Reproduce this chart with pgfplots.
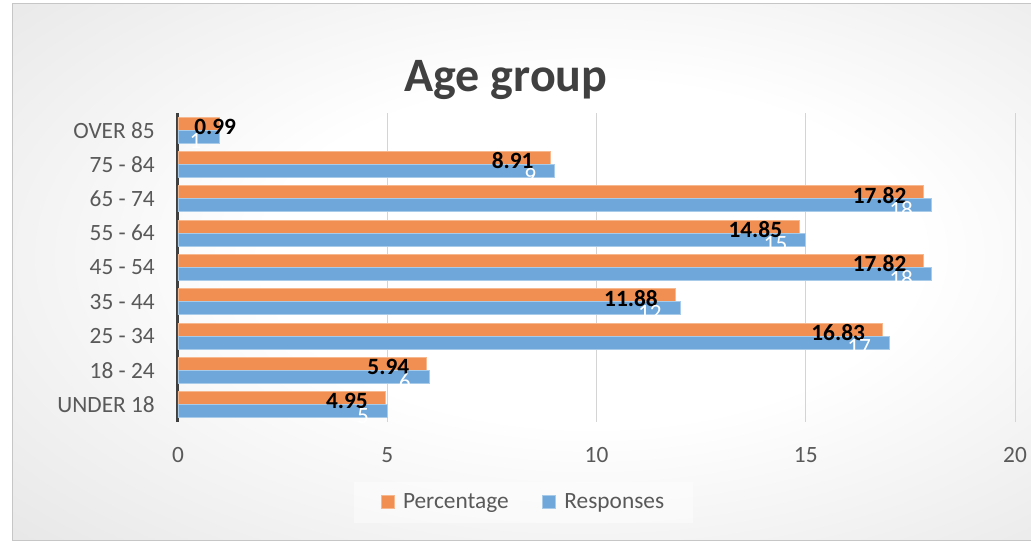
\documentclass[border=0pt]{standalone}
\usepackage{pgfplots}
\pgfplotsset{compat=1.18}
\usepackage{pgfplotstable}
\usepackage{fontspec}
\setmainfont{Carlito}

\definecolor{txt}{HTML}{595959}
\definecolor{ttl}{HTML}{404040}
\definecolor{pctfill}{HTML}{F08F51}
\definecolor{pctedge}{HTML}{F6B88F}
\definecolor{respfill}{HTML}{6FA7DA}
\definecolor{respedge}{HTML}{A9CBEA}
\definecolor{gridc}{HTML}{D4D4D4}

% 1 px of the reference = 0.75pt
\def\pxu{0.75pt}

\pgfdeclareradialshading{chartbg}{\pgfpoint{4bp}{2bp}}{%
  color(0bp)=(white); color(16bp)=(white); color(40bp)=(gray!20);
  color(58bp)=(gray!36); color(72bp)=(gray!45); color(100bp)=(gray!45)}

\pgfplotstableread{
y pct resp ps
0 4.95 5 -17
1 5.94 6 -17
2 16.83 17 -17
3 11.88 12 -17
4 17.82 18 -17
5 14.85 15 -17
6 17.82 18 -17
7 8.91 9 -17
8 0.99 1 17
}\agedata

\begin{document}
\begin{tikzpicture}
\path[use as bounding box] (0,0) rectangle (1031*\pxu,540*\pxu);
\path[shading=chartbg, draw=gray!45, line width=0.75pt]
  (12*\pxu,0) rectangle (1035*\pxu,536*\pxu);

\node[anchor=base, text=ttl, inner sep=0pt] at (506*\pxu,448*\pxu)
  {\fontsize{36}{40}\selectfont\bfseries Age group};

\begin{axis}[
  at={(178*\pxu,118*\pxu)}, anchor=south west,
  scale only axis,
  width=627.75pt, height=231.75pt,
  xbar,
  bar width=9.75pt,
  xmin=0, xmax=20, ymin=-0.5, ymax=8.5,
  xtick={0,5,10,15,20},
  ytick={0,...,8},
  yticklabels={UNDER 18,18 - 24,25 - 34,35 - 44,45 - 54,55 - 64,65 - 74,{75 - 84\ },OVER 85},
  major tick length=0pt,
  axis lines*=left,
  x axis line style={draw=none},
  y axis line style={draw=ttl, line width=2.25pt},
  xmajorgrids,
  grid style={draw=gridc, line width=0.75pt},
  tick label style={font=\fontsize{17.5}{20}\selectfont, text=txt, inner sep=0pt},
  /pgf/number format/assume math mode=true,
  yticklabel style={anchor=east, xshift=-23*\pxu},
  xticklabel style={anchor=north, yshift=-25*\pxu},
  legend style={at={(0.413,-0.259)}, anchor=center, draw=none,
    fill=white, fill opacity=0.45, text opacity=1,
    font=\fontsize{17.5}{20}\selectfont, text=txt,
    inner xsep=20pt, inner ysep=7pt,
    /tikz/every odd column/.append style={column sep=4.5pt},
    /tikz/every even column/.append style={column sep=23pt}},
  legend columns=2,
  legend image code/.code={\draw[#1, fill opacity=1, draw opacity=1]
    (0pt,-4.875pt) rectangle (9.75pt,4.875pt);},
  point meta=explicit symbolic,
  nodes near coords,
]
\addplot[fill=pctfill, draw=pctedge, line width=0.6pt, bar shift=4.875pt,
  visualization depends on={\thisrow{ps} \as \ps},
  every node near coord/.style={anchor=east, inner sep=0pt,
    xshift=\ps*0.75pt, yshift=3.5*0.75pt, text=black,
    font=\fontsize{17.5}{20}\selectfont\bfseries}]
  table[x=pct, y=y, meta=pct] {\agedata};
\addplot[fill=respfill, draw=respedge, line width=0.6pt, bar shift=-4.875pt,
  every node near coord/.style={anchor=east, inner sep=0pt,
    xshift=-18*0.75pt, yshift=-11*0.75pt, text=white,
    font=\fontsize{17.5}{20}\selectfont}]
  table[x=resp, y=y, meta=resp] {\agedata};
\legend{Percentage, Responses}
\end{axis}
\end{tikzpicture}
\end{document}
